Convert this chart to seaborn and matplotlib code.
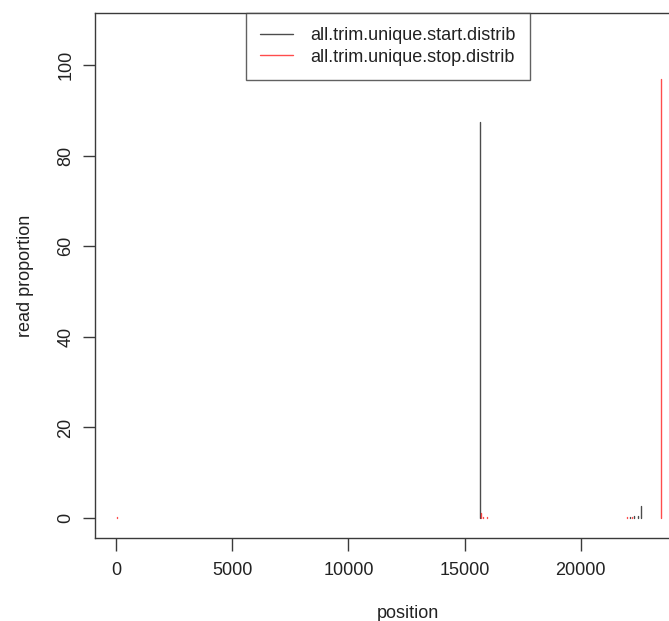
import numpy as np
import pandas as pd
import matplotlib
matplotlib.use("Agg")
import matplotlib.pyplot as plt
import seaborn as sns
from matplotlib.lines import Line2D

# ---- data ----
start_positions = [15676, 22100, 22300, 22450, 22590]
start_values = [87.5, 0.3, 0.4, 0.5, 2.7]
stop_positions = [40, 15690, 15800, 15950, 22000, 22200, 23460]
stop_values = [0.3, 1.2, 0.3, 0.3, 0.2, 0.2, 97.0]
series_names = ["all.trim.unique.start.distrib", "all.trim.unique.stop.distrib"]
series_colors = ["black", "red"]
x_ticks = [0, 5000, 10000, 15000, 20000]
y_ticks = [0, 20, 40, 60, 80, 100]

# long-form table: each spike is a vertical segment (R type="h")
rows = []
uid = 0
for name, pos, val in [(series_names[0], start_positions, start_values),
                       (series_names[1], stop_positions, stop_values)]:
    for p, v in zip(pos, val):
        rows.append({"position": p, "read proportion": 0.0, "series": name, "uid": uid})
        rows.append({"position": p, "read proportion": v, "series": name, "uid": uid})
        uid += 1
df = pd.DataFrame(rows)

sns.set_theme(style="ticks")
plt.rcParams["font.family"] = ["Liberation Sans", "DejaVu Sans"]

W, H = 669, 621
fig = plt.figure(figsize=(W / 100, H / 100), dpi=100)
left, right, top, bottom = 95, 720, 13, 538
ax = fig.add_axes([left / W, 1 - bottom / H, (right - left) / W, (bottom - top) / H])

sns.lineplot(data=df, x="position", y="read proportion", hue="series",
             units="uid", estimator=None, palette=series_colors,
             hue_order=series_names, linewidth=1.0, alpha=0.7, ax=ax, legend=False)

px_per_unit = 116.2 / 5000
x0 = -(116 - left) / px_per_unit
x1 = x0 + (right - left) / px_per_unit
ax.set_xlim(x0, x1)
ax.set_ylim(-4.4, 111.5)

ax.set_xticks(x_ticks)
ax.set_xticklabels([str(t) for t in x_ticks])
ax.set_yticks(y_ticks)
ax.set_yticklabels([str(t) for t in y_ticks], rotation=90, va="center")

for s in ax.spines.values():
    s.set_visible(True)
    s.set_color("#3a3a3a")
    s.set_linewidth(1.0)

fs = 13
ax.tick_params(axis="both", direction="out", length=9, width=1.0, color="#3a3a3a",
               labelsize=fs, labelcolor="#222222")
ax.tick_params(axis="x", pad=8)
ax.tick_params(axis="y", pad=6)
ax.set_xlabel("position", fontsize=fs, color="#222222", labelpad=19)
ax.set_ylabel("read proportion", fontsize=fs, color="#222222", labelpad=17)

handles = [Line2D([], [], color=c, lw=1.0, alpha=0.7) for c in series_colors]
leg = fig.legend(handles, series_names, loc="upper center",
                 bbox_to_anchor=(388 / W, 1 - top / H), bbox_transform=fig.transFigure,
                 fontsize=fs, frameon=True, fancybox=False, edgecolor="#3a3a3a",
                 handlelength=1.8, handletextpad=1.0, borderpad=0.78, labelspacing=0.25,
                 borderaxespad=0)
leg.get_frame().set_linewidth(1.0)
for t in leg.get_texts():
    t.set_color("#222222")

fig.savefig("out.png", dpi=100)
